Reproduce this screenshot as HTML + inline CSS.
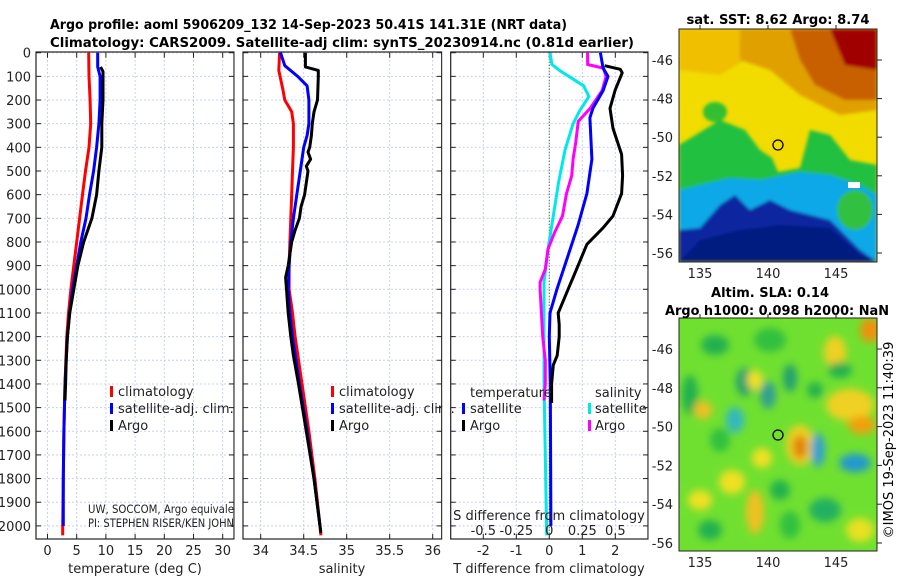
<!DOCTYPE html>
<html><head><meta charset="utf-8"><style>
html,body{margin:0;padding:0;background:#fff;}
svg{display:block;font-family:"DejaVu Sans","Liberation Sans",sans-serif;}
</style></head><body>
<svg id="chart" width="900" height="580" viewBox="0 0 900 580" xmlns="http://www.w3.org/2000/svg">
<defs>
<filter id="b2" x="-20%" y="-20%" width="140%" height="140%"><feGaussianBlur stdDeviation="1.5"/></filter>
<filter id="b6" x="-50%" y="-50%" width="200%" height="200%"><feGaussianBlur stdDeviation="4"/></filter>
<clipPath id="cm1"><rect x="679" y="29" width="198" height="233"/></clipPath>
<clipPath id="cm2"><rect x="679" y="318" width="198" height="233"/></clipPath>
</defs>

<g id="p1"></g>
<g id="p2"></g>
<g id="p3"></g>

<text x="50" y="29" font-size="13.5" font-weight="bold" textLength="517" lengthAdjust="spacingAndGlyphs">Argo profile: aoml 5906209_132 14-Sep-2023 50.41S 141.31E (NRT data)</text>
<text x="50" y="47" font-size="13.5" font-weight="bold" textLength="584" lengthAdjust="spacingAndGlyphs">Climatology: CARS2009. Satellite-adj clim: synTS_20230914.nc (0.81d earlier)</text>

<!-- SST map -->
<g>
<text x="778" y="24" font-size="13" font-weight="bold" text-anchor="middle" textLength="183" lengthAdjust="spacingAndGlyphs">sat. SST: 8.62 Argo: 8.74</text>
<g clip-path="url(#cm1)">
<rect x="679" y="29" width="198" height="233" fill="#f2dc00"/>
<g filter="url(#b2)">
<path d="M679 29 L740 29 L745 60 L720 75 L679 70 Z" fill="#f0c000"/>
<path d="M740 29 L877 29 L877 110 L840 115 L800 95 L770 70 L740 60 Z" fill="#e0a000"/>
<path d="M790 29 L877 29 L877 100 L845 100 L815 85 L800 60 Z" fill="#c86000"/>
<path d="M830 29 L877 29 L877 70 L845 65 Z" fill="#a00000"/>
<path d="M679 145 L720 120 L745 130 L760 150 L772 158 L778 172 L800 168 L810 130 L830 135 L850 160 L877 165 L877 262 L679 262 Z" fill="#20c040"/>
<path d="M679 190 L700 185 L730 178 L760 180 L800 172 L830 175 L860 185 L877 195 L877 262 L679 262 Z" fill="#10a8e8"/>
<path d="M679 230 L700 228 L720 205 L735 195 L750 210 L770 200 L790 210 L830 220 L860 250 L877 262 L679 262 Z" fill="#0828a0"/>
<path d="M700 240 L740 230 L780 225 L830 228 L860 255 L877 262 L679 262 Z" fill="#001a80"/>
<ellipse cx="715" cy="112" rx="12" ry="10" fill="#30c030"/>
<ellipse cx="855" cy="210" rx="18" ry="20" fill="#30c040"/>
</g>
<rect x="848" y="182" width="12" height="6" fill="#fff"/>
</g>
<rect x="679" y="29" width="198" height="233" fill="none" stroke="#222" stroke-width="1"/>
<circle cx="778" cy="145" r="5" fill="none" stroke="#000" stroke-width="1.3"/>
</g>

<!-- SLA map -->
<g>
<text x="770" y="297" font-size="13" font-weight="bold" text-anchor="middle" textLength="118" lengthAdjust="spacingAndGlyphs">Altim. SLA: 0.14</text>
<text x="777" y="315" font-size="13" font-weight="bold" text-anchor="middle" textLength="224" lengthAdjust="spacingAndGlyphs">Argo h1000: 0.098 h2000: NaN</text>
<g clip-path="url(#cm2)">
<rect x="679" y="318" width="198" height="233" fill="#70e030"/>
<g filter="url(#b6)">
<ellipse cx="715" cy="345" rx="14" ry="10" fill="#20b050"/>
<ellipse cx="770" cy="340" rx="16" ry="12" fill="#30c040"/>
<ellipse cx="745" cy="382" rx="9" ry="14" fill="#20a070"/>
<ellipse cx="790" cy="378" rx="7" ry="14" fill="#20a070"/>
<ellipse cx="815" cy="390" rx="8" ry="8" fill="#20b050"/>
<ellipse cx="690" cy="395" rx="8" ry="20" fill="#20b050"/>
<ellipse cx="703" cy="410" rx="9" ry="9" fill="#f0c020"/>
<ellipse cx="720" cy="440" rx="10" ry="12" fill="#30c040"/>
<ellipse cx="735" cy="420" rx="9" ry="13" fill="#30b8c0"/>
<ellipse cx="768" cy="395" rx="8" ry="14" fill="#30a090"/>
<ellipse cx="755" cy="380" rx="8" ry="10" fill="#f0e020"/>
<ellipse cx="800" cy="445" rx="14" ry="20" fill="#f0d020"/>
<ellipse cx="800" cy="447" rx="7" ry="12" fill="#e08010"/>
<ellipse cx="818" cy="450" rx="7" ry="17" fill="#30a0d0"/>
<ellipse cx="850" cy="405" rx="24" ry="16" fill="#f0d020"/>
<ellipse cx="862" cy="425" rx="14" ry="9" fill="#f0a010"/>
<ellipse cx="855" cy="463" rx="16" ry="9" fill="#2098d0"/>
<ellipse cx="835" cy="352" rx="11" ry="16" fill="#f0d020"/>
<ellipse cx="870" cy="330" rx="10" ry="12" fill="#f09010"/>
<ellipse cx="840" cy="370" rx="12" ry="8" fill="#20b050"/>
<ellipse cx="732" cy="482" rx="13" ry="12" fill="#f0e020"/>
<ellipse cx="755" cy="512" rx="9" ry="22" fill="#f0c020"/>
<ellipse cx="700" cy="500" rx="12" ry="10" fill="#f0e020"/>
<ellipse cx="825" cy="510" rx="16" ry="12" fill="#20b060"/>
<ellipse cx="790" cy="525" rx="10" ry="14" fill="#30c040"/>
<ellipse cx="762" cy="458" rx="10" ry="10" fill="#f0e020"/>
<ellipse cx="860" cy="530" rx="14" ry="12" fill="#e8e020"/>
<ellipse cx="710" cy="530" rx="12" ry="10" fill="#20b050"/>
<ellipse cx="780" cy="490" rx="10" ry="10" fill="#20b050"/>
</g>
</g>
<rect x="679" y="318" width="198" height="233" fill="none" stroke="#222" stroke-width="1"/>
<circle cx="778" cy="435" r="5" fill="none" stroke="#000" stroke-width="1.3"/>
<text transform="translate(893,440) rotate(-90)" font-size="13" text-anchor="middle">©IMOS 19-Sep-2023 11:40:39</text>
</g>
<g id="maps-axes"></g>

<script>
// ---------- data ----------
const depthTicks = [0,100,200,300,400,500,600,700,800,900,1000,1100,1200,1300,1400,1500,1600,1700,1800,1900,2000];
const tempTicks = [0,5,10,15,20,25,30];
const salTicks = [34,34.5,35,35.5,36];
const salTickLabels = ["34","34.5","35","35.5","36"];
const tdiffTicks = [-2,-1,0,1,2];
const sdiffTicks = [-0.5,-0.25,0,0.25,0.5];
const sdiffTickLabels = ["-0.5","-0.25","0","0.25","0.5"];

const tClimDepth = [0,100,200,300,400,500,600,700,800,900,1000,1100,1200,1400,1600,1800,2000,2040];
const tClim = [7.05,7.1,7.3,7.4,7.1,6.5,6.0,5.5,5.0,4.5,4.0,3.6,3.3,3.0,2.8,2.7,2.6,2.6];
const tSatDepth = [0,60,100,200,300,400,500,600,700,800,900,1000,1100,1200,1400,1600,1800,2000];
const tSat = [8.6,8.6,9.0,9.0,8.8,8.4,7.9,7.2,6.6,5.7,5.0,4.3,3.8,3.4,3.0,2.8,2.7,2.7];
const tArgoDepth = [60,80,100,200,300,400,500,600,700,800,900,1000,1100,1200,1300,1400,1470];
const tArgo = [9.1,9.5,9.5,9.5,9.3,9.3,8.8,8.4,7.6,6.2,5.2,4.5,3.8,3.4,3.2,3.1,3.0];

const sClimDepth = [0,75,160,200,250,300,400,500,600,700,800,900,1000,1100,1200,1400,1600,1800,2000,2040];
const sClim = [34.22,34.21,34.26,34.28,34.36,34.38,34.38,34.37,34.36,34.35,34.34,34.33,34.33,34.37,34.40,34.48,34.56,34.63,34.69,34.70];
const sSatDepth = [0,55,100,140,200,300,350,400,500,600,700,800,900,1000,1100,1200,1400,1600,1800,2000];
const sSat = [34.23,34.28,34.43,34.54,34.56,34.56,34.54,34.50,34.46,34.42,34.38,34.35,34.33,34.32,34.34,34.37,34.45,34.54,34.62,34.69];
const sArgoDepth = [0,60,75,100,200,250,300,350,400,420,450,480,500,550,600,650,700,750,800,850,900,950,1000,1100,1200,1280,1400,1600,1800,2000,2030];
const sArgo = [34.52,34.52,34.67,34.67,34.66,34.62,34.60,34.59,34.57,34.55,34.58,34.53,34.55,34.53,34.51,34.47,34.45,34.40,34.36,34.34,34.32,34.29,34.30,34.32,34.35,34.38,34.44,34.53,34.62,34.69,34.70];

const dSSatDepth = [0,50,76,140,185,245,300,410,550,690,830,970,1100,1400,1700,2040];
const dSSat = [0.005,0.02,0.08,0.26,0.30,0.23,0.18,0.12,0.07,0.03,-0.01,-0.04,-0.04,-0.04,-0.03,-0.02];
const dSArgoDepth = [0,50,65,100,160,235,290,380,450,520,595,690,760,830,915,970,1000,1100,1200,1300,1400,1470];
const dSArgo = [0.29,0.29,0.41,0.43,0.40,0.31,0.22,0.20,0.18,0.17,0.13,0.10,0.04,-0.01,-0.03,-0.07,-0.07,-0.06,-0.05,-0.03,-0.03,-0.04];
const dTSatDepth = [0,65,100,160,235,275,450,595,730,870,1000,1100,1200,1400,1700,2000];
const dTSat = [1.55,1.63,1.78,1.63,1.32,1.23,1.29,1.14,0.87,0.54,0.23,0.02,0.0,0.03,0.04,0.05];
const dTArgoDepth = [55,70,85,160,235,320,430,520,595,690,740,810,880,950,1000,1050,1100,1150,1200,1280,1320,1400,1480];
const dTArgo = [1.68,2.15,2.21,1.99,1.84,1.93,2.19,2.22,2.19,1.93,1.63,1.14,0.93,0.72,0.57,0.42,0.27,0.30,0.30,0.24,0.12,0.07,0.07];

// ---------- scales ----------
const NS = "http://www.w3.org/2000/svg";
const Y0 = 52.7, YK = 0.2366, YB = 539;
function yD(d){ return Y0 + d*YK; }
function xT(v){ return 47.5 + v*5.84; }
function xS(v){ return 260.7 + (v-34)*86; }
function xDT(v){ return 549.3 + v*33; }
function xDS(v){ return 549.3 + v*132; }

function mk(tag, attrs, parent){
  const e = document.createElementNS(NS, tag);
  for (const k in attrs) e.setAttribute(k, attrs[k]);
  parent.appendChild(e);
  return e;
}

function panel(g, x0, x1, gridXs){
  for (const gx of gridXs){
    const l = mk('line',{x1:gx,x2:gx,y1:Y0-0.7,y2:YB,stroke:'#c8d0f0','stroke-width':1,'stroke-dasharray':'2,2'},g);
    
    
  }
  for (const d of depthTicks){
    const l = mk('line',{x1:x0,x2:x1,y1:yD(d),y2:yD(d),stroke:'#c8d0f0','stroke-width':1,'stroke-dasharray':'2,2'},g);
    
    
    const t1 = mk('line',{x1:x0,x2:x0+5,y1:yD(d),y2:yD(d),stroke:'#222','stroke-width':1},g);
    
    
    const t2 = mk('line',{x1:x1-5,x2:x1,y1:yD(d),y2:yD(d),stroke:'#222','stroke-width':1},g);
    
    
  }
  for (const gx of gridXs){
    const t = mk('line',{x1:gx,x2:gx,y1:YB-5,y2:YB,stroke:'#222','stroke-width':1},g);
    
    
    const t2 = mk('line',{x1:gx,x2:gx,y1:Y0,y2:Y0+5,stroke:'#222','stroke-width':1},g);
    
    
  }
}
function frame(g,x0,x1){
  const r = mk('rect',{x:x0,y:Y0-0.7,width:x1-x0,height:YB-Y0+0.7,fill:'none',stroke:'#222','stroke-width':1.2},g);
  
  
}
function line(g, depths, vals, xf, color, name, w){
  const pts = depths.map((d,i)=> xf(vals[i]).toFixed(1)+','+yD(d).toFixed(1)).join(' ');
  const p = mk('polyline',{points:pts,fill:'none',stroke:color,'stroke-width':w||3,'stroke-linejoin':'round'},g);
  
  
}
function txt(g,x,y,s,opts,name){
  const t = mk('text',Object.assign({x:x,y:y,'font-size':13,fill:'#222'},opts||{}),g);
  t.textContent = s;
  
  
  return t;
}
function legendMark(g,x,y,color,name){
  const r = mk('rect',{x:x,y:y-10,width:3,height:11,fill:color},g);
  
  
}

// ---------- panel 1 ----------
const p1 = document.getElementById('p1');
panel(p1, 36, 234, tempTicks.map(xT));
line(p1, tClimDepth, tClim, xT, '#ff0000','temp-climatology-line');
line(p1, tSatDepth, tSat, xT, '#0000ff','temp-satellite-line');
line(p1, tArgoDepth, tArgo, xT, '#000000','temp-argo-line');
frame(p1,36,234);
for (const d of depthTicks) txt(p1, 31, yD(d)+5, String(d), {'text-anchor':'end'}, 'depth-tick-label');
for (const v of tempTicks) txt(p1, xT(v), 555, String(v), {'text-anchor':'middle'}, 'temp-tick-label');
txt(p1, 135, 573, 'temperature (deg C)', {'text-anchor':'middle'}, 'temp-axis-title');
legendMark(p1,110,396,'#ff0000','legend-climatology-mark');
txt(p1,118,396,'climatology',{},'legend-climatology');
legendMark(p1,110,413,'#0000ff','legend-satellite-mark');
txt(p1,118,413,'satellite-adj. clim.',{},'legend-satellite');
legendMark(p1,110,430,'#000000','legend-argo-mark');
txt(p1,118,430,'Argo',{},'legend-argo');
txt(p1,88,513,'UW, SOCCOM, Argo equivale',{'font-size':11.5,textLength:146,lengthAdjust:'spacingAndGlyphs'},'institution-text');
txt(p1,88,527,'PI: STEPHEN RISER/KEN JOHN',{'font-size':11.5,textLength:146,lengthAdjust:'spacingAndGlyphs'},'pi-text');
mk('rect',{x:234.6,y:50,width:7.5,height:492,fill:'#fff'},p1);

// ---------- panel 2 ----------
const p2 = document.getElementById('p2');
panel(p2, 243, 441.7, salTicks.map(xS));
line(p2, sClimDepth, sClim, xS, '#ff0000','sal-climatology-line');
line(p2, sSatDepth, sSat, xS, '#0000ff','sal-satellite-line');
line(p2, sArgoDepth, sArgo, xS, '#000000','sal-argo-line');
frame(p2,243,441.7);
salTicks.forEach((v,i)=> txt(p2, xS(v), 555, salTickLabels[i], {'text-anchor':'middle'}, 'sal-tick-label'));
txt(p2, 342, 573, 'salinity', {'text-anchor':'middle'}, 'sal-axis-title');
legendMark(p2,331,396,'#ff0000','legend-climatology-mark');
txt(p2,339,396,'climatology',{},'legend-climatology');
legendMark(p2,331,413,'#0000ff','legend-satellite-mark');
txt(p2,339,413,'satellite-adj. clim.',{},'legend-satellite');
legendMark(p2,331,430,'#000000','legend-argo-mark');
txt(p2,339,430,'Argo',{},'legend-argo');
mk('rect',{x:442.3,y:50,width:7.8,height:492,fill:'#fff'},p2);

// ---------- panel 3 ----------
const p3 = document.getElementById('p3');
panel(p3, 450.7, 648, tdiffTicks.map(xDT));
const zl = mk('line',{x1:xDT(0),x2:xDT(0),y1:Y0,y2:YB,stroke:'#446644','stroke-width':1.2,'stroke-dasharray':'1,2'},p3);


line(p3, dSSatDepth, dSSat, xDS, '#00e8e8','sdiff-satellite-line');
line(p3, dSArgoDepth, dSArgo, xDS, '#ff00ff','sdiff-argo-line');
line(p3, dTSatDepth, dTSat, xDT, '#0000ff','tdiff-satellite-line');
line(p3, dTArgoDepth, dTArgo, xDT, '#000000','tdiff-argo-line');
frame(p3,450.7,648);
tdiffTicks.forEach(v=> txt(p3, xDT(v), 555, String(v), {'text-anchor':'middle'}, 'tdiff-tick-label'));
txt(p3, 549, 573, 'T difference from climatology', {'text-anchor':'middle'}, 'tdiff-axis-title');
sdiffTicks.forEach((v,i)=> txt(p3, xDS(v), 535, sdiffTickLabels[i], {'text-anchor':'middle'}, 'sdiff-tick-label'));
txt(p3, 549, 520, 'S difference from climatology', {'text-anchor':'middle'}, 'sdiff-axis-title');
txt(p3,470,397,'temperature',{},'legend-temperature-header');
legendMark(p3,462,413,'#0000ff','legend-tdiff-satellite-mark');
txt(p3,470,413,'satellite',{},'legend-tdiff-satellite');
legendMark(p3,462,430,'#000000','legend-tdiff-argo-mark');
txt(p3,470,430,'Argo',{},'legend-tdiff-argo');
txt(p3,595,397,'salinity',{},'legend-salinity-header');
legendMark(p3,588,413,'#00e8e8','legend-sdiff-satellite-mark');
txt(p3,595,413,'satellite',{},'legend-sdiff-satellite');
legendMark(p3,588,430,'#ff00ff','legend-sdiff-argo-mark');
txt(p3,595,430,'Argo',{},'legend-sdiff-argo');
mk('rect',{x:648.6,y:50,width:7,height:492,fill:'#fff'},p3);

// ---------- map axes ----------
const latTicks = [-46,-48,-50,-52,-54,-56];
const lonTicks = [135,140,145];
const ma = document.getElementById('maps-axes');
function mapAxes(yTop, y46, y56, yBot){
  const ky = (y56-y46)/10;
  latTicks.forEach(l=>{
    const y = y46 + (-46-l)*ky;
    txt(ma, 673, y+5, String(l), {'text-anchor':'end'}, 'lat-tick-label');
    const t = mk('line',{x1:877,x2:882,y1:y,y2:y,stroke:'#222'},ma);
    
    
  });
  lonTicks.forEach(l=>{
    const x = 700 + (l-135)*13.6;
    txt(ma, x, yBot+16, String(l), {'text-anchor':'middle'}, 'lon-tick-label');
    const t = mk('line',{x1:x,x2:x,y1:yTop-4,y2:yTop,stroke:'#222'},ma);
    
    
  });
}
mapAxes(29, 60, 253, 262);
mapAxes(318, 349, 543, 551);
</script>
</svg>
</body></html>
